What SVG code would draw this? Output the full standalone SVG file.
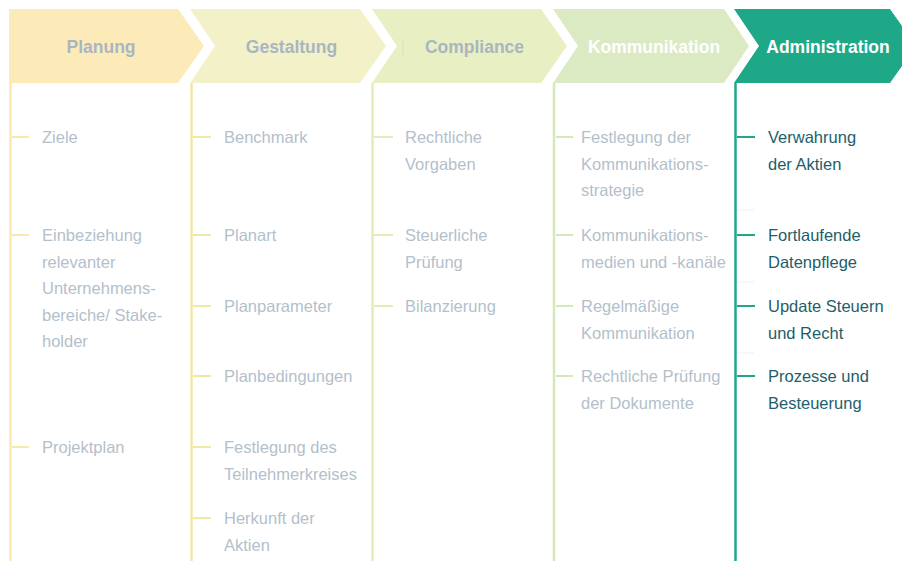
<svg xmlns="http://www.w3.org/2000/svg" width="902" height="561" viewBox="0 0 902 561">
<style>
.hd{font-family:"Liberation Sans",Arial,sans-serif;font-size:17.5px;font-weight:bold;text-anchor:middle}
.hg{fill:#aab5c3}
.hw{fill:#ffffff}
.tx{font-family:"Liberation Sans",Arial,sans-serif;font-size:16.5px;fill:#b3bfcb}
.ta{fill:#1e5e6b}
.vl{stroke-width:2.5;fill:none}
.tk{stroke-width:2;fill:none}
</style>
<rect width="902" height="561" fill="#ffffff"/>
<g id="connectors">
<line class="vl" x1="10.5" y1="83" x2="10.5" y2="561" stroke="#fae9ae"/>
<line class="vl" x1="191.5" y1="83" x2="191.5" y2="561" stroke="#efe8a6"/>
<line class="vl" x1="372.5" y1="83" x2="372.5" y2="561" stroke="#e3edb8"/>
<line class="vl" x1="554" y1="83" x2="554" y2="561" stroke="#d5e8b8"/>
<line class="vl" x1="735.5" y1="83" x2="735.5" y2="561" stroke="#1ea888"/>
<g stroke="#fae9ae" class="tk">
<line x1="12" y1="137" x2="29" y2="137"/><line x1="12" y1="235" x2="29" y2="235"/><line x1="12" y1="447" x2="29" y2="447"/>
</g>
<g stroke="#efe8a6" class="tk">
<line x1="193" y1="137" x2="211" y2="137"/><line x1="193" y1="235" x2="211" y2="235"/><line x1="193" y1="306" x2="211" y2="306"/><line x1="193" y1="376" x2="211" y2="376"/><line x1="193" y1="447" x2="211" y2="447"/><line x1="193" y1="518" x2="211" y2="518"/>
</g>
<g stroke="#e3edb8" class="tk">
<line x1="374" y1="137" x2="393" y2="137"/><line x1="374" y1="235" x2="393" y2="235"/><line x1="374" y1="306" x2="393" y2="306"/>
</g>
<g stroke="#d5e8b8" class="tk">
<line x1="556" y1="137" x2="573" y2="137"/><line x1="556" y1="235" x2="573" y2="235"/><line x1="556" y1="306" x2="573" y2="306"/><line x1="556" y1="376" x2="573" y2="376"/>
</g>
<g stroke="#1ea888" class="tk">
<line x1="737" y1="137" x2="755" y2="137"/><line x1="737" y1="235" x2="755" y2="235"/><line x1="737" y1="306" x2="755" y2="306"/><line x1="737" y1="376" x2="755" y2="376"/>
</g>
<g stroke="#eef1f1" stroke-width="1">
<line x1="737" y1="210" x2="754" y2="210"/><line x1="737" y1="282" x2="754" y2="282"/><line x1="737" y1="353" x2="754" y2="353"/>
</g>
</g>
<g id="planung">
<polygon points="9,9 178,9 204,46 178,83 9,83" fill="#fcebb8"/>
<text class="hd hg" x="101" y="52.5">Planung</text>
<text class="tx" x="42" y="143">Ziele</text>
<text class="tx" x="42" y="241">Einbeziehung<tspan x="42" dy="26.5">relevanter</tspan><tspan x="42" dy="26.5">Unternehmens-</tspan><tspan x="42" dy="26.5">bereiche/ Stake-</tspan><tspan x="42" dy="26.5">holder</tspan></text>
<text class="tx" x="42" y="453">Projektplan</text>
</g>
<g id="gestaltung">
<polygon points="190,9 360,9 386,46 360,83 190,83 215,46" fill="#f3f1c8"/>
<text class="hd hg" x="291.5" y="52.5">Gestaltung</text>
<text class="tx" x="224" y="143">Benchmark</text>
<text class="tx" x="224" y="241">Planart</text>
<text class="tx" x="224" y="312">Planparameter</text>
<text class="tx" x="224" y="382">Planbedingungen</text>
<text class="tx" x="224" y="453">Festlegung des<tspan x="224" dy="26.5">Teilnehmerkreises</tspan></text>
<text class="tx" x="224" y="524">Herkunft der<tspan x="224" dy="26.5">Aktien</tspan></text>
</g>
<g id="compliance">
<polygon points="372,9 541,9 567,46 541,83 372,83 397,46" fill="#e8f0c3"/>
<line x1="403" y1="40" x2="403" y2="57" stroke="#d5e2a5" stroke-width="1"/>
<text class="hd hg" x="474.5" y="52.5">Compliance</text>
<text class="tx" x="405" y="143">Rechtliche<tspan x="405" dy="26.5">Vorgaben</tspan></text>
<text class="tx" x="405" y="241">Steuerliche<tspan x="405" dy="26.5">Prüfung</tspan></text>
<text class="tx" x="405" y="312">Bilanzierung</text>
</g>
<g id="kommunikation">
<polygon points="553,9 724,9 749,46 724,83 553,83 578,46" fill="#dbeac3"/>
<text class="hd hw" x="654" y="52.5">Kommunikation</text>
<text class="tx" x="581" y="143">Festlegung der<tspan x="581" dy="26.5">Kommunikations-</tspan><tspan x="581" dy="26.5">strategie</tspan></text>
<text class="tx" x="581" y="241">Kommunikations-<tspan x="581" dy="26.5">medien und -kanäle</tspan></text>
<text class="tx" x="581" y="312">Regelmäßige<tspan x="581" dy="26.5">Kommunikation</tspan></text>
<text class="tx" x="581" y="382">Rechtliche Prüfung<tspan x="581" dy="26.5">der Dokumente</tspan></text>
</g>
<g id="administration">
<polygon points="734,9 890,9 916,46 890,83 734,83 759,46" fill="#1ea888"/>
<text class="hd hw" x="828" y="52.5">Administration</text>
<text class="tx ta" x="768" y="143">Verwahrung<tspan x="768" dy="26.5">der Aktien</tspan></text>
<text class="tx ta" x="768" y="241">Fortlaufende<tspan x="768" dy="26.5">Datenpflege</tspan></text>
<text class="tx ta" x="768" y="312">Update Steuern<tspan x="768" dy="26.5">und Recht</tspan></text>
<text class="tx ta" x="768" y="382">Prozesse und<tspan x="768" dy="26.5">Besteuerung</tspan></text>
</g>
</svg>
